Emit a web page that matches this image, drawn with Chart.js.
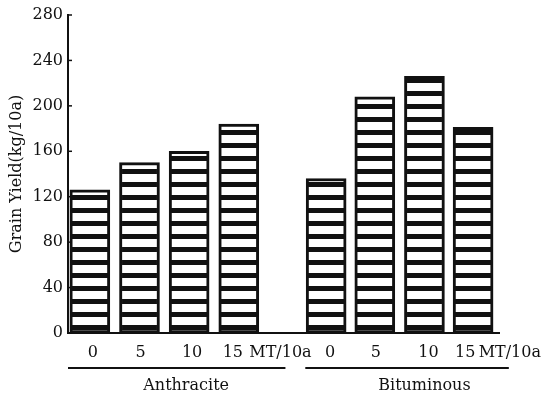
<!DOCTYPE html>
<html>
<head>
<meta charset="utf-8">
<script src="https://cdn.jsdelivr.net/npm/chart.js@4"></script>
<style>
  body { margin: 0; background: #fff; }
  #wrap { width: 551px; height: 400px; }
</style>
</head>
<body>
<div id="wrap"><canvas id="yieldChart" width="551" height="400"></canvas></div>
<script>
// 資料
const coalTypes = ['Anthracite', 'Bituminous'];
const doseLabels = ['0', '5', '10', '15'];
const unitLabel = 'MT/10a';
const anthraciteYield = [126, 150, 160, 184];
const bituminousYield = [136, 208, 226, 181];
// 各長條在 x 軸上的位置 (兩組之間留空)
const anthraciteX = [0, 1, 2, 3];
const bituminousX = [4.76, 5.74, 6.74, 7.72];
// 刻度文字位置 (劑量 + 單位)
const anthraciteTickX = [0.06, 1.02, 2.06, 2.88, 3.84];
const bituminousTickX = [4.84, 5.76, 6.82, 7.56, 8.46];
const yTicks = [0, 40, 80, 120, 160, 200, 240, 280];

const FONT = 'DejaVu Serif';
const INK = '#111';

// 橫條紋圖樣
function stripePattern(ctx) {
    const c = document.createElement('canvas');
    c.width = 4; c.height = 13;
    const g = c.getContext('2d');
    g.fillStyle = '#fff';
    g.fillRect(0, 0, 4, 13);
    g.fillStyle = INK;
    g.fillRect(0, 0, 4, 5);
    return ctx.createPattern(c, 'repeat');
}

const tickVals = [...anthraciteTickX, ...bituminousTickX];
const tickText = [...doseLabels, unitLabel, ...doseLabels, unitLabel];

// 內向刻度、組別底線與名稱
const extras = {
    id: 'extras',
    afterDraw(chart) {
        const { ctx, scales: { x, y } } = chart;
        ctx.save();
        ctx.strokeStyle = INK;
        ctx.lineWidth = 1.5;
        y.ticks.forEach(t => {
            const py = y.getPixelForValue(t.value);
            ctx.beginPath();
            ctx.moveTo(x.left, py);
            ctx.lineTo(x.left + 4, py);
            ctx.stroke();
        });
        const spans = [[-0.44, 3.94, 1.94], [4.34, 8.44, 6.74]];
        ctx.lineWidth = 2;
        ctx.fillStyle = INK;
        ctx.font = '16px "' + FONT + '"';
        ctx.textAlign = 'center';
        ctx.textBaseline = 'middle';
        spans.forEach((s, i) => {
            ctx.beginPath();
            ctx.moveTo(x.getPixelForValue(s[0]), 368);
            ctx.lineTo(x.getPixelForValue(s[1]), 368);
            ctx.stroke();
            ctx.fillText(coalTypes[i], x.getPixelForValue(s[2]), 386);
        });
        ctx.restore();
    }
};

const ctx = document.getElementById('yieldChart').getContext('2d');
const pat = stripePattern(ctx);

const barStyle = {
    backgroundColor: pat,
    borderColor: INK,
    borderWidth: 3,
    borderSkipped: false,
    barThickness: 40,
    grouped: false
};

new Chart(ctx, {
    type: 'bar',
    data: {
        datasets: [
            Object.assign({ label: coalTypes[0], data: anthraciteX.map((v, i) => ({ x: v, y: anthraciteYield[i] })) }, barStyle),
            Object.assign({ label: coalTypes[1], data: bituminousX.map((v, i) => ({ x: v, y: bituminousYield[i] })) }, barStyle)
        ]
    },
    options: {
        responsive: false,
        animation: false,
        layout: { padding: { top: 15, right: 0, left: 0, bottom: 0 } },
        plugins: { legend: { display: false }, tooltip: { enabled: false } },
        scales: {
            x: {
                type: 'linear',
                min: -0.44,
                max: 8.26,
                offset: false,
                grid: { display: false, drawTicks: false },
                border: { display: true, color: INK, width: 2 },
                afterBuildTicks: s => { s.ticks = tickVals.map(v => ({ value: v })); },
                afterFit: s => { s.height = 67; },
                ticks: {
                    autoSkip: false,
                    maxRotation: 0,
                    padding: 10,
                    color: INK,
                    font: { family: FONT, size: 16 },
                    callback: (v, i) => tickText[i]
                }
            },
            y: {
                min: 0,
                max: 280,
                grid: { display: false, drawTicks: false },
                border: { display: true, color: INK, width: 2 },
                afterBuildTicks: s => { s.ticks = yTicks.map(v => ({ value: v })); },
                afterFit: s => { s.width = 68; },
                ticks: {
                    padding: 5,
                    color: INK,
                    font: { family: FONT, size: 16 }
                },
                title: {
                    display: true,
                    text: 'Grain Yield(kg/10a)',
                    color: INK,
                    font: { family: FONT, size: 16 },
                    padding: { top: 7, bottom: 0 }
                }
            }
        }
    },
    plugins: [extras]
});
</script>
</body>
</html>
